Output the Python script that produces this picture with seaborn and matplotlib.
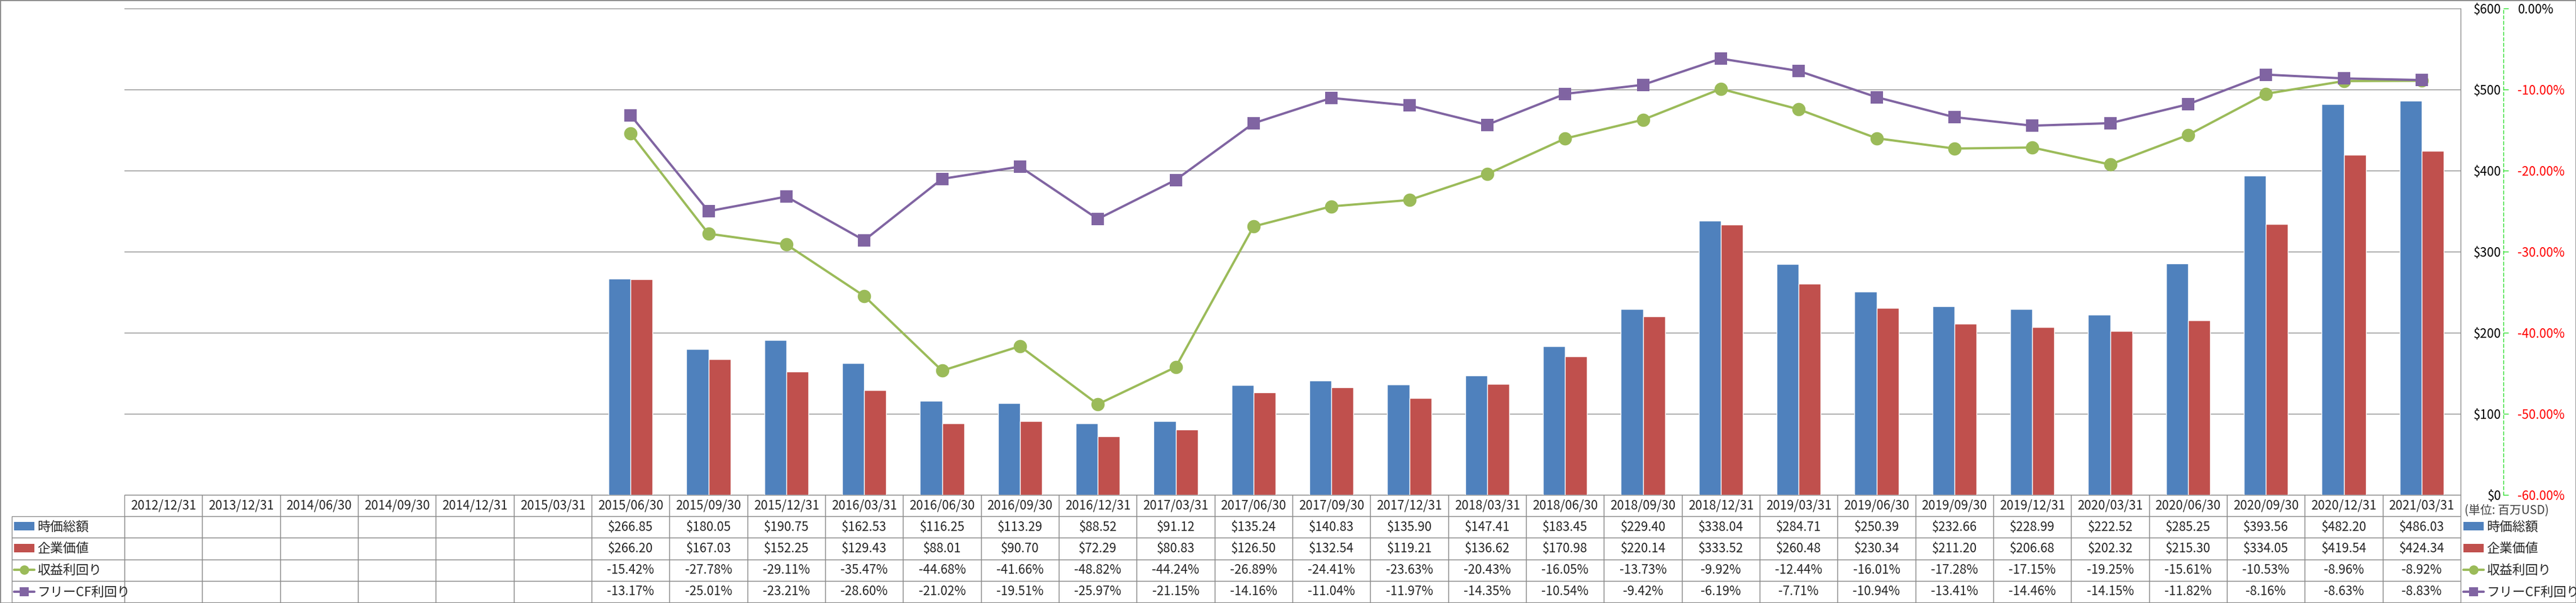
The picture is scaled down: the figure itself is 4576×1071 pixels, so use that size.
import numpy as np
import pandas as pd
import seaborn as sns
import matplotlib.pyplot as plt
from matplotlib.ticker import FuncFormatter, FixedLocator
from matplotlib.patches import Patch, Rectangle
from matplotlib.lines import Line2D

# データ（単位: 百万USD / %）
dates = ['2012/12/31', '2013/12/31', '2014/06/30', '2014/09/30', '2014/12/31', '2015/03/31',
         '2015/06/30', '2015/09/30', '2015/12/31', '2016/03/31', '2016/06/30', '2016/09/30',
         '2016/12/31', '2017/03/31', '2017/06/30', '2017/09/30', '2017/12/31', '2018/03/31',
         '2018/06/30', '2018/09/30', '2018/12/31', '2019/03/31', '2019/06/30', '2019/09/30',
         '2019/12/31', '2020/03/31', '2020/06/30', '2020/09/30', '2020/12/31', '2021/03/31']
nan = np.nan
market_cap = [nan] * 6 + [266.85, 180.05, 190.75, 162.53, 116.25, 113.29, 88.52, 91.12,
                          135.24, 140.83, 135.90, 147.41, 183.45, 229.40, 338.04, 284.71,
                          250.39, 232.66, 228.99, 222.52, 285.25, 393.56, 482.20, 486.03]
ev = [nan] * 6 + [266.20, 167.03, 152.25, 129.43, 88.01, 90.70, 72.29, 80.83,
                  126.50, 132.54, 119.21, 136.62, 170.98, 220.14, 333.52, 260.48,
                  230.34, 211.20, 206.68, 202.32, 215.30, 334.05, 419.54, 424.34]
earn_yield = [nan] * 6 + [-15.42, -27.78, -29.11, -35.47, -44.68, -41.66, -48.82, -44.24,
                          -26.89, -24.41, -23.63, -20.43, -16.05, -13.73, -9.92, -12.44,
                          -16.01, -17.28, -17.15, -19.25, -15.61, -10.53, -8.96, -8.92]
fcf_yield = [nan] * 6 + [-13.17, -25.01, -23.21, -28.60, -21.02, -19.51, -25.97, -21.15,
                         -14.16, -11.04, -11.97, -14.35, -10.54, -9.42, -6.19, -7.71,
                         -10.94, -13.41, -14.46, -14.15, -11.82, -8.16, -8.63, -8.83]
series_names = ['時価総額', '企業価値', '収益利回り', 'フリーCF利回り']

BLUE, RED, GREEN, PURPLE = '#4F81BD', '#C0504D', '#9BBB59', '#8064A2'
GRAY = '#898989'

sns.set_theme(style='white')
plt.rcParams['font.family'] = ['Noto Sans CJK JP', 'DejaVu Sans']
plt.rcParams['axes.unicode_minus'] = False

W, H = 4576, 1071
fig = plt.figure(figsize=(W / 100, H / 100), dpi=100)
# プロット領域（ピクセルで配置）
x0, x1, y_top, y_bot = 221, 4371, 15, 879
ax = fig.add_axes([x0 / W, (H - y_bot) / H, (x1 - x0) / W, (y_bot - y_top) / H])

# 棒グラフ
df = pd.DataFrame({'date': dates * 2,
                   'series': [series_names[0]] * len(dates) + [series_names[1]] * len(dates),
                   'value': market_cap + ev}).dropna()
sns.barplot(data=df, x='date', y='value', hue='series', order=dates,
            hue_order=series_names[:2], palette=[BLUE, RED], saturation=1,
            width=0.566, gap=0, errorbar=None, legend=False, ax=ax, zorder=2)

# 折れ線（第2軸）
ax2 = ax.twinx()
pos = np.arange(len(dates))
sns.lineplot(x=pos, y=np.array(earn_yield) / 100, ax=ax2, color=GREEN, linewidth=2.9,
             marker='o', markersize=17, markeredgewidth=0, sort=False)
sns.lineplot(x=pos, y=np.array(fcf_yield) / 100, ax=ax2, color=PURPLE, linewidth=2.9,
             marker='s', markersize=16.5, markeredgewidth=0, sort=False)

# 第1軸（$）の設定 — twinx の後で右側へ
ax.set_xlim(-0.5, len(dates) - 0.5)
ax.set_ylim(0, 600)
ax.yaxis.set_major_locator(FixedLocator(range(0, 601, 100)))
ax.yaxis.set_major_formatter(FuncFormatter(lambda v, p: f'${v:.0f}'))
ax.tick_params(axis='y', left=False, right=False, labelleft=False, labelright=True,
               length=0, pad=52, labelsize=16, labelcolor='black')
ax.tick_params(axis='x', length=0, labelbottom=False)
ax.set_xlabel('')
ax.set_ylabel('')
ax.grid(axis='y', color=GRAY, linewidth=1)
ax.set_axisbelow(True)
for s in ['left', 'top', 'bottom']:
    ax.spines[s].set_visible(False)
ax.spines['right'].set_color(GRAY)
ax.spines['right'].set_linewidth(1)

# 第2軸（%）の設定
ax2.set_ylim(-0.6, 0)
ax2.set_xlim(-0.5, len(dates) - 0.5)
ax2.yaxis.set_major_locator(FixedLocator(np.linspace(-0.6, 0, 7)))
ax2.yaxis.set_major_formatter(FuncFormatter(lambda v, p: f'{v * 100:.2f}%'))
ax2.set_ylabel('')
for s in ['left', 'top', 'bottom']:
    ax2.spines[s].set_visible(False)
ax2.spines['right'].set_position(('outward', 55))
ax2.spines['right'].set_color('#22DD22')
ax2.spines['right'].set_linestyle((0, (4, 3)))
ax2.spines['right'].set_linewidth(1)
ax2.tick_params(axis='y', length=6.5, width=1, color='#22DD22', pad=11.5, labelsize=16)

fig.canvas.draw()
for t in ax.yaxis.get_major_ticks():
    t.label2.set_horizontalalignment('right')
for t, v in zip(ax2.yaxis.get_major_ticks(), ax2.get_yticks()):
    t.label2.set_color('red' if v < -1e-9 else 'black')

# データテーブル
def fmt_money(v):
    return '' if np.isnan(v) else f'${v:.2f}'

def fmt_pct(v):
    return '' if np.isnan(v) else f'{v:.2f}%'

cell_text = [dates,
             [fmt_money(v) for v in market_cap],
             [fmt_money(v) for v in ev],
             [fmt_pct(v) for v in earn_yield],
             [fmt_pct(v) for v in fcf_yield]]
ph = y_bot - y_top
pw = x1 - x0
tbl_h = 1070 - y_bot
tbl = ax.table(cellText=cell_text, cellLoc='center',
               bbox=[0, -tbl_h / ph, 1, tbl_h / ph])
tbl.auto_set_font_size(False)
tbl.set_fontsize(16)
for cell in tbl.get_celld().values():
    cell.set_edgecolor(GRAY)
    cell.set_linewidth(1)

# 左側の凡例セル
row_h = tbl_h / 5
lab = ax.table(cellText=[[''] for _ in range(4)],
               bbox=[-(x0 - 21) / pw, -tbl_h / ph, (x0 - 21) / pw, 4 * row_h / ph])
for cell in lab.get_celld().values():
    cell.set_edgecolor(GRAY)
    cell.set_linewidth(1)

handles = [Patch(facecolor=BLUE, edgecolor='none'),
           Patch(facecolor=RED, edgecolor='none'),
           Line2D([], [], color=GREEN, lw=3, marker='o', markersize=12, markeredgewidth=0),
           Line2D([], [], color=PURPLE, lw=3, marker='s', markersize=12, markeredgewidth=0)]
leg_kw = dict(frameon=False, fontsize=16.5, loc='upper left', borderpad=0, borderaxespad=0,
              labelspacing=0.68, handlelength=1.55, handleheight=0.6, handletextpad=0.25)
first_top = y_bot + row_h * 1.5 - 11.5
fig.legend(handles, series_names, bbox_to_anchor=(25 / W, (H - first_top) / H), **leg_kw)
fig.legend(handles, series_names, bbox_to_anchor=(4376 / W, (H - first_top) / H), **leg_kw)
fig.text(4378 / W, (H - 907) / H, '(単位: 百万USD)', fontsize=15, color='#404040',
         va='center', ha='left')

# 外枠
fig.patches.append(Rectangle((0, 0), 1, 1, transform=fig.transFigure, fill=False,
                             edgecolor=GRAY, linewidth=2))

fig.savefig('out.png', dpi=100)
